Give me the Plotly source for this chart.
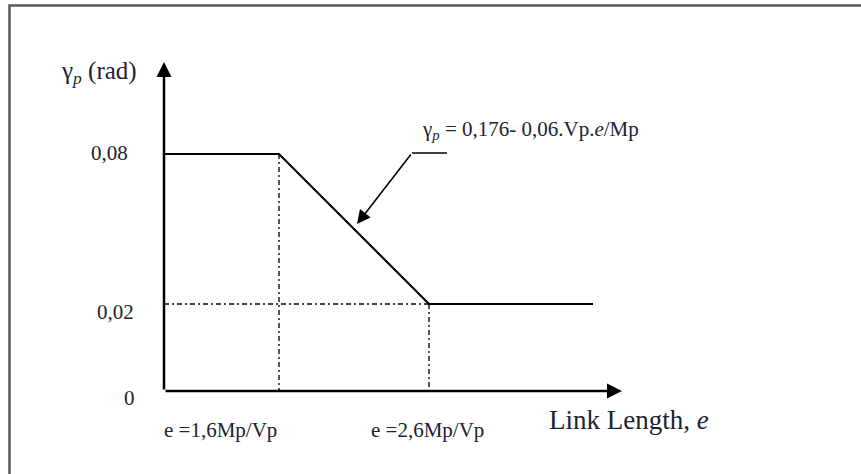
import plotly.graph_objects as go

# ---- data (schematic units: 1 unit = 100 px) ----
curve_x = [0.0, 1.15, 2.65, 4.29]          # e = 0, 1.6Mp/Vp, 2.6Mp/Vp, end
curve_y = [2.37, 2.37, 0.87, 0.87]         # gamma_p = 0.08, 0.08, 0.02, 0.02
y_tick_labels = ["0,08", "0,02", "0"]
y_tick_pos = [2.37, 0.87, 0.0]
x_tick_labels = ["e =1,6Mp/Vp", "e =2,6Mp/Vp"]
x_tick_pos = [1.15, 2.65]
x_axis_end = 4.58
y_axis_end = 3.29
equation = "γ<sub><i>p</i></sub> = 0,176- 0,06.Vp.<i>e</i>/Mp"
y_title = "γ<sub><i>p</i></sub> (rad)"
x_title = "Link Length, <i>e</i>"

FONT = "Liberation Serif, Times New Roman, serif"
TXT = "#1c2333"

fig = go.Figure()

# dashed guide lines
guide = dict(color="#444444", width=1.8, dash="5px,3px,2px,3px")
fig.add_trace(go.Scatter(x=[x_tick_pos[0], x_tick_pos[0]], y=[curve_y[1], 0],
                         mode="lines", line=guide, hoverinfo="skip"))
fig.add_trace(go.Scatter(x=[x_tick_pos[1], x_tick_pos[1]], y=[curve_y[2], 0],
                         mode="lines", line=guide, hoverinfo="skip"))
fig.add_trace(go.Scatter(x=[0, x_tick_pos[1]], y=[curve_y[2], curve_y[2]],
                         mode="lines", line=guide, hoverinfo="skip"))

# main curve
fig.add_trace(go.Scatter(x=curve_x, y=curve_y, mode="lines",
                         line=dict(color="black", width=2.2), hoverinfo="skip"))

# callout horizontal segment
fig.add_trace(go.Scatter(x=[2.48, 2.83], y=[2.38, 2.38], mode="lines",
                         line=dict(color="black", width=1.6), hoverinfo="skip"))

annotations = []
# axes arrows
annotations.append(dict(x=x_axis_end, y=0, ax=0, ay=0, xref="x", yref="y",
                        axref="x", ayref="y", text="", showarrow=True,
                        arrowhead=2, arrowsize=1.2, arrowwidth=2.5,
                        arrowcolor="black", standoff=0))
annotations.append(dict(x=0, y=y_axis_end, ax=0, ay=0, xref="x", yref="y",
                        axref="x", ayref="y", text="", showarrow=True,
                        arrowhead=2, arrowsize=1.2, arrowwidth=2.5,
                        arrowcolor="black", standoff=0))
# callout arrow
annotations.append(dict(x=1.93, y=1.67, ax=2.48, ay=2.38, xref="x", yref="y",
                        axref="x", ayref="y", text="", showarrow=True,
                        arrowhead=2, arrowsize=1.7, arrowwidth=1.6,
                        arrowcolor="black", standoff=0))

# y tick labels
y_label_x = [-0.55, -0.49, -0.35]
y_label_y = [2.38, 0.79, -0.07]
for t, lx, ly in zip(y_tick_labels, y_label_x, y_label_y):
    annotations.append(dict(x=lx, y=ly, text=t, showarrow=False, xref="x", yref="y",
                            xanchor="center", yanchor="middle",
                            font=dict(family=FONT, size=21, color=TXT)))
# x tick labels
for t, px in zip(x_tick_labels, [0.56, 2.63]):
    annotations.append(dict(x=px, y=-0.39, text=t, showarrow=False, xref="x", yref="y",
                            xanchor="center", yanchor="middle",
                            font=dict(family=FONT, size=21, color=TXT)))
# titles
annotations.append(dict(x=-0.25, y=3.19, text=y_title, showarrow=False, xref="x", yref="y",
                        xanchor="right", yanchor="middle",
                        font=dict(family=FONT, size=25, color=TXT)))
annotations.append(dict(x=3.83, y=-0.29, text=x_title, showarrow=False, xref="x", yref="y",
                        xanchor="left", yanchor="middle",
                        font=dict(family=FONT, size=27, color=TXT)))
annotations.append(dict(x=2.56, y=2.61, text=equation, showarrow=False, xref="x", yref="y",
                        xanchor="left", yanchor="middle",
                        font=dict(family=FONT, size=21, color=TXT)))

fig.update_layout(
    width=861, height=474,
    margin=dict(l=0, r=0, t=0, b=0),
    paper_bgcolor="white", plot_bgcolor="white",
    showlegend=False,
    xaxis=dict(range=[-1.64, 6.97], visible=False, fixedrange=True),
    yaxis=dict(range=[-0.83, 3.91], visible=False, fixedrange=True),
    annotations=annotations,
    shapes=[dict(type="rect", xref="paper", yref="paper",
                 x0=9.5 / 861, x1=1.02, y0=-0.02, y1=1 - 5.5 / 474,
                 line=dict(color="#5a5a5a", width=2.5))],
)

fig.write_html("out.html", config={"displayModeBar": False},
               post_script="document.body.style.margin='0px';document.body.style.overflow='hidden';")
